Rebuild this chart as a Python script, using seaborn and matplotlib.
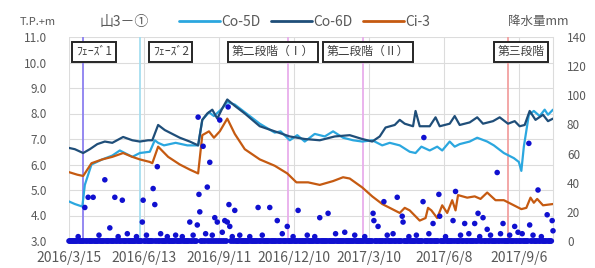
import matplotlib
matplotlib.use("Agg")
import matplotlib.pyplot as plt
import seaborn as sns
import pandas as pd
import numpy as np

# water level T.P.+m
co5d_dates = ["2016-03-15", "2016-03-22", "2016-03-31", "2016-04-03", "2016-04-11", "2016-04-24",
              "2016-05-06", "2016-05-15", "2016-05-30", "2016-06-08", "2016-06-20", "2016-06-26",
              "2016-06-30", "2016-07-07", "2016-07-21", "2016-08-04", "2016-08-17", "2016-08-22",
              "2016-08-30", "2016-09-05", "2016-09-15", "2016-09-21", "2016-09-30", "2016-10-12",
              "2016-10-30", "2016-11-17", "2016-11-24", "2016-12-05", "2016-12-14", "2016-12-23",
              "2017-01-04", "2017-01-16", "2017-01-26", "2017-02-07", "2017-02-19", "2017-03-02",
              "2017-03-14", "2017-03-26", "2017-04-04", "2017-04-16", "2017-04-28", "2017-05-05",
              "2017-05-12", "2017-05-22", "2017-05-31", "2017-06-06", "2017-06-15", "2017-06-21",
              "2017-06-27", "2017-07-09", "2017-07-18", "2017-07-30", "2017-08-07", "2017-08-19",
              "2017-08-31", "2017-09-06", "2017-09-09", "2017-09-12", "2017-09-18", "2017-09-24",
              "2017-10-01", "2017-10-07", "2017-10-11", "2017-10-17"]
co5d_vals = [4.55, 4.45, 4.35, 5.2, 6.0, 6.2,
             6.35, 6.55, 6.3, 6.45, 6.5, 6.95,
             6.85, 6.75, 6.85, 6.75, 6.75, 7.75,
             8.05, 7.9, 8.2, 8.45, 8.35, 8.05,
             7.6, 7.25, 7.3, 6.95, 7.15, 6.9,
             7.2, 7.1, 7.3, 7.05, 6.95, 6.9,
             6.95, 6.75, 6.85, 6.75, 6.5, 6.45,
             6.7, 6.55, 6.7, 6.55, 6.9, 6.7,
             6.8, 6.9, 7.05, 6.9, 6.75, 6.45,
             6.25, 6.1, 5.75, 6.7, 7.95, 8.1,
             7.9, 8.15, 7.95, 8.15]

co6d_dates = ["2016-03-15", "2016-03-22", "2016-04-01", "2016-04-09", "2016-04-18", "2016-04-27",
              "2016-05-06", "2016-05-19", "2016-05-30", "2016-06-08", "2016-06-18", "2016-06-23",
              "2016-06-30", "2016-07-08", "2016-07-26", "2016-08-07", "2016-08-17", "2016-08-22",
              "2016-08-28", "2016-09-03", "2016-09-09", "2016-09-15", "2016-09-21", "2016-09-30",
              "2016-10-12", "2016-10-30", "2016-11-17", "2016-12-05", "2016-12-23", "2017-01-10",
              "2017-01-28", "2017-02-15", "2017-03-02", "2017-03-14", "2017-03-23", "2017-03-30",
              "2017-04-10", "2017-04-16", "2017-04-22", "2017-05-02", "2017-05-05", "2017-05-10",
              "2017-05-22", "2017-05-29", "2017-06-03", "2017-06-15", "2017-06-21", "2017-06-27",
              "2017-07-09", "2017-07-18", "2017-07-25", "2017-08-06", "2017-08-14", "2017-08-24",
              "2017-09-01", "2017-09-07", "2017-09-13", "2017-09-19", "2017-09-26", "2017-10-05",
              "2017-10-11", "2017-10-17"]
co6d_vals = [6.65, 6.6, 6.45, 6.6, 6.8, 6.9,
             6.85, 7.08, 6.95, 6.9, 6.95, 6.95,
             7.55, 7.35, 7.05, 6.9, 6.75, 7.75,
             8.0, 8.15, 7.8, 8.2, 8.55, 8.3,
             8.0, 7.5, 7.3, 7.1, 7.0, 6.95,
             7.1, 7.15, 7.0, 6.9, 7.1, 7.45,
             7.55, 7.75, 7.6, 7.5, 8.1, 7.5,
             7.5, 7.85, 7.5, 7.6, 7.9, 7.55,
             7.65, 7.85, 7.6, 7.7, 7.85, 7.6,
             7.7, 7.5, 7.55, 8.1, 7.75, 7.95,
             7.7, 7.8]

ci3_dates = ["2016-03-15", "2016-03-25", "2016-04-01", "2016-04-11", "2016-04-24", "2016-05-06",
             "2016-05-19", "2016-05-30", "2016-06-08", "2016-06-20", "2016-06-23", "2016-06-30",
             "2016-07-12", "2016-07-26", "2016-08-07", "2016-08-17", "2016-08-22", "2016-08-30",
             "2016-09-05", "2016-09-12", "2016-09-21", "2016-09-30", "2016-10-12", "2016-10-30",
             "2016-11-17", "2016-12-02", "2016-12-13", "2016-12-27", "2017-01-10", "2017-01-26",
             "2017-02-07", "2017-02-15", "2017-03-02", "2017-03-14", "2017-03-26", "2017-04-04",
             "2017-04-16", "2017-04-22", "2017-04-28", "2017-05-10", "2017-05-17", "2017-05-20",
             "2017-05-24", "2017-05-31", "2017-06-06", "2017-06-12", "2017-06-18", "2017-06-22",
             "2017-06-25", "2017-07-06", "2017-07-15", "2017-07-22", "2017-07-30", "2017-08-09",
             "2017-08-19", "2017-08-31", "2017-09-09", "2017-09-15", "2017-09-20", "2017-09-24",
             "2017-09-28", "2017-10-05", "2017-10-17"]
ci3_vals = [5.7, 5.6, 5.55, 6.05, 6.2, 6.3,
            6.45, 6.3, 6.2, 6.1, 6.05, 6.7,
            6.3, 6.0, 5.8, 5.65, 7.15, 7.3,
            7.05, 7.3, 7.8, 7.2, 6.6, 6.2,
            5.95, 5.65, 5.3, 5.3, 5.2, 5.35,
            5.5, 5.45, 5.1, 4.75, 4.45, 4.3,
            4.1, 4.3, 4.2, 3.8, 3.9, 4.3,
            4.2, 3.9, 4.4, 4.1, 4.6, 4.2,
            4.8, 4.7, 4.75, 4.65, 4.9, 4.6,
            4.6, 4.4, 4.25, 4.3, 4.7, 4.5,
            4.65, 4.4, 4.45]

# precipitation mm (days not listed are dry)
rain_dates = ["2016-04-03", "2016-04-07", "2016-04-13", "2016-04-27", "2016-05-03", "2016-05-09",
              "2016-05-18", "2016-06-11", "2016-06-12", "2016-06-24", "2016-06-26", "2016-06-29",
              "2016-08-07", "2016-08-16", "2016-08-17", "2016-08-18", "2016-08-19", "2016-08-23",
              "2016-08-28", "2016-08-31", "2016-09-06", "2016-09-09", "2016-09-12", "2016-09-18",
              "2016-09-21", "2016-09-22", "2016-09-23", "2016-09-24", "2016-09-30", "2016-10-28",
              "2016-11-11", "2016-11-20", "2016-12-02", "2016-12-15", "2017-01-10", "2017-01-20",
              "2017-02-09", "2017-03-15", "2017-03-16", "2017-03-21", "2017-03-28", "2017-04-13",
              "2017-04-19", "2017-04-20", "2017-05-14", "2017-05-15", "2017-05-26", "2017-06-02",
              "2017-06-03", "2017-06-19", "2017-06-22", "2017-07-03", "2017-07-15", "2017-07-19",
              "2017-07-25", "2017-07-30", "2017-08-11", "2017-08-18", "2017-09-01", "2017-09-05",
              "2017-09-18", "2017-09-19", "2017-09-29", "2017-10-10", "2017-10-16", "2017-10-17"]
rain_vals = [23, 30, 30, 42, 9, 30,
             28, 13, 28, 36, 25, 51,
             13, 11, 85, 32, 20, 65,
             37, 54, 16, 13, 83, 14,
             13, 92, 25, 10, 21, 23,
             23, 14, 10, 21, 16, 19,
             6, 19, 14, 10, 27, 30,
             17, 13, 27, 71, 12, 32,
             17, 14, 34, 12, 12, 19,
             16, 8, 47, 12, 10, 6,
             67, 11, 35, 18, 14, 7]

small_dates = ["2016-03-26", "2016-04-20", "2016-05-13", "2016-05-24", "2016-06-04", "2016-06-16",
               "2016-07-03", "2016-07-11", "2016-07-21", "2016-07-29", "2016-08-11", "2016-08-26",
               "2016-09-03", "2016-09-15", "2016-09-27", "2016-10-06", "2016-10-18", "2016-11-02",
               "2016-11-26", "2016-12-09", "2016-12-26", "2017-01-04", "2017-01-29", "2017-02-21",
               "2017-03-05", "2017-04-01", "2017-04-08", "2017-04-27", "2017-05-06", "2017-05-21",
               "2017-06-10", "2017-06-28", "2017-07-08", "2017-07-21", "2017-08-03", "2017-08-15",
               "2017-08-26", "2017-09-10", "2017-09-23", "2017-10-03"]
small_vals = [3, 4, 3, 5, 3, 4,
              5, 3, 4, 3, 4, 5,
              4, 6, 3, 4, 3, 4,
              5, 3, 4, 3, 5, 4,
              3, 4, 5, 3, 4, 5,
              3, 4, 5, 3, 4, 5,
              4, 5, 4, 3]

tick_dates = ["2016-03-15", "2016-06-13", "2016-09-11", "2016-12-10", "2017-03-10", "2017-06-08", "2017-09-06"]
tick_labels = ["2016/3/15", "2016/6/13", "2016/9/11", "2016/12/10", "2017/3/10", "2017/6/8", "2017/9/6"]

phase_dates = ["2016-04-01", "2016-06-08", "2016-12-03", "2017-03-03", "2017-08-24"]
phase_colors = ["#8c7ff0", "#a6def0", "#e8aeec", "#e8aeec", "#f2a0a0"]

box_labels = ["ﾌｪｰｽﾞ1", "ﾌｪｰｽﾞ2", "第二段階（Ⅰ）", "第二段階（Ⅱ）", "第三段階"]
box_dates = ["2016-04-14", "2016-07-15", "2016-11-15", "2017-03-09", "2017-09-09"]

sns.set_style("white")
plt.rcParams['font.family'] = ['Noto Sans CJK JP', 'DejaVu Sans']
grey = "#595959"

levels = pd.concat([
    pd.DataFrame({"date": pd.to_datetime(co5d_dates), "level": co5d_vals, "well": "Co-5D"}),
    pd.DataFrame({"date": pd.to_datetime(co6d_dates), "level": co6d_vals, "well": "Co-6D"}),
    pd.DataFrame({"date": pd.to_datetime(ci3_dates), "level": ci3_vals, "well": "Ci-3"}),
])
palette = {"Co-5D": "#2ba7df", "Co-6D": "#1f4e79", "Ci-3": "#c55a11"}

days = pd.date_range("2016-03-15", "2017-10-17", freq="D")
rain = pd.Series(0.0, index=days)
rain[pd.to_datetime(small_dates)] = small_vals
rain[pd.to_datetime(rain_dates)] = rain_vals
rain_df = pd.DataFrame({"date": rain.index, "mm": rain.values})

fig = plt.figure(figsize=(5.95, 2.68), dpi=100)
ax = fig.add_axes([69 / 595, 1 - 241 / 268, 484 / 595, 204 / 268])

for d, c in zip(phase_dates, phase_colors):
    ax.axvline(pd.Timestamp(d), color=c, lw=1.3, zorder=1)

sns.lineplot(data=levels, x="date", y="level", hue="well", palette=palette,
             lw=1.6, ax=ax, legend=False, zorder=3)

ax.set_xlim(pd.Timestamp("2016-03-15"), pd.Timestamp("2017-10-17"))
ax.set_ylim(3, 11)
ax.set_yticks(np.arange(3, 11.1, 1))
ax.set_yticklabels([f"{v:.1f}" for v in np.arange(3, 11.1, 1)], fontsize=8.5, color=grey)
ax.set_xticks(pd.to_datetime(tick_dates))
ax.set_xticklabels(tick_labels, fontsize=10, color=grey)
ax.tick_params(axis="y", length=0, pad=16)
ax.tick_params(axis="x", length=0, pad=7)
ax.grid(True, color="#dcdcdc", lw=0.8)
ax.set_xlabel("")
ax.set_ylabel("")
for s in ax.spines.values():
    s.set_visible(False)
ax.spines["right"].set_visible(True)
ax.spines["right"].set_color("#dcdcdc")

ax2 = ax.twinx()
sns.scatterplot(data=rain_df, x="date", y="mm", color="#1010d0", s=16,
                edgecolor="none", ax=ax2, clip_on=False, zorder=4)
ax2.set_ylim(0, 140)
ax2.set_yticks(np.arange(0, 141, 20))
ax2.set_yticklabels([str(v) for v in range(0, 141, 20)], fontsize=8.5, color=grey)
ax2.tick_params(length=0, pad=10)
ax2.set_ylabel("")
for s in ax2.spines.values():
    s.set_visible(False)

for lab, d in zip(box_labels, box_dates):
    ax2.text(pd.Timestamp(d), 130, lab, ha="center", va="center", fontsize=8.5, color="#404040",
             bbox=dict(boxstyle="square,pad=0.3", fc="white", ec="#262626", lw=1.4), zorder=5)

handles = [plt.Line2D([], [], color=palette[k], lw=2) for k in ["Co-5D", "Co-6D", "Ci-3"]]
fig.legend(handles, ["Co-5D", "Co-6D", "Ci-3"], loc="center left", bbox_to_anchor=(0.30, 0.918),
           ncol=3, frameon=False, fontsize=10, handlelength=3, handletextpad=0.1,
           columnspacing=0.7, borderpad=0, borderaxespad=0, labelcolor=grey)

fig.text(20 / 595, 0.918, "T.P.+m", fontsize=8, color=grey, va="center")
fig.text(100 / 595, 0.918, "山3－①", fontsize=10, color=grey, va="center")
fig.text(508 / 595, 0.918, "降水量mm", fontsize=9, color=grey, va="center")

fig.savefig("out.png", dpi=100)
plt.close(fig)
